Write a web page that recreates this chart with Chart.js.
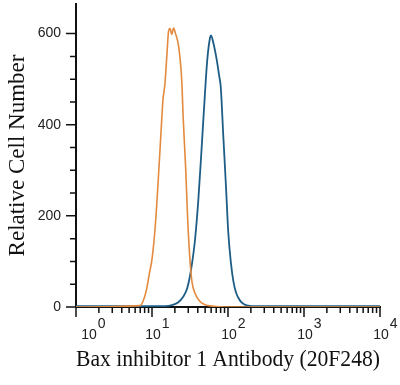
<!DOCTYPE html>
<html>
<head>
<meta charset="utf-8">
<script src="https://cdn.jsdelivr.net/npm/chart.js@4.4.1/dist/chart.umd.min.js"></script>
<style>
  html, body { margin: 0; padding: 0; background: #fff; }
</style>
</head>
<body>
<canvas id="myChart" width="400" height="385"></canvas>
<script>
// isotype control (orange) - fluorescence intensity vs cell count
const isotypeX = [1, 6.95, 7.61, 8.47, 9.27, 10.0, 10.95, 12.0, 13.1, 13.95, 14.8, 15.8, 16.5, 17.3, 18.2, 19.2, 20.4, 22.0, 23.4, 24.6, 25.8, 27.8, 29.5, 31.6, 33.6, 36.8, 42.8, 49.8, 61.6, 91.3, 10000];
const isotypeY = [0, 3, 12, 38, 75, 105, 170, 270, 380, 455, 490, 560, 605, 611, 598, 612, 600, 580, 545, 499, 411, 301, 191, 103, 55, 30, 12, 5, 2, 0, 0];

// Bax inhibitor 1 antibody (blue)
const antibodyX = [1, 14.8, 18.3, 22.0, 25.6, 28.9, 31.6, 33.6, 36.8, 40.7, 45.1, 49.8, 53.4, 58.0, 59.8, 64.1, 71.0, 76.8, 80.2, 86.8, 94.1, 100.9, 109.5, 118.1, 127.4, 143.9, 162.4, 183.3, 207.0, 10000];
const antibodyY = [2, 2, 4, 10, 22, 40, 68, 95, 147, 235, 352, 470, 543, 591, 596, 580, 543, 506, 484, 374, 264, 163, 95, 55, 32, 14, 6, 3, 2, 2];

const xExps = [0, 1, 2, 3, 4];
const xMinor = [2, 3, 4, 5, 6, 7, 8, 9];
const yLabelled = [0, 200, 400, 600];
const yMax = 665;

const toPoints = (xs, ys) => xs.map((x, i) => ({ x: x, y: ys[i] }));

const axisMarks = {
  id: "axisMarks",
  afterDraw: (chart) => {
    const { ctx, chartArea, scales } = chart;
    const x = scales.x;
    const y = scales.y;
    const bottom = chartArea.bottom;
    const left = chartArea.left;
    ctx.save();
    ctx.strokeStyle = "#111";
    ctx.lineWidth = 1.5;
    ctx.beginPath();
    xExps.forEach((e, i) => {
      const px = x.getPixelForValue(Math.pow(10, e));
      ctx.moveTo(px, bottom);
      ctx.lineTo(px, bottom + 10);
      if (i < xExps.length - 1) {
        xMinor.forEach((m) => {
          const p = x.getPixelForValue(m * Math.pow(10, e));
          ctx.moveTo(p, bottom);
          ctx.lineTo(p, bottom + 6);
        });
      }
    });
    y.ticks.forEach((t) => {
      if (t.value % 50 !== 0) return;
      const py = y.getPixelForValue(t.value);
      const len = yLabelled.includes(t.value) ? 10 : 6;
      ctx.moveTo(left - len, py);
      ctx.lineTo(left, py);
    });
    ctx.stroke();

    // x labels as 10 with raised exponent
    ctx.fillStyle = "#222";
    ctx.font = "14px 'Liberation Sans', Arial, sans-serif";
    ctx.textBaseline = "alphabetic";
    xExps.forEach((e) => {
      const px = x.getPixelForValue(Math.pow(10, e));
      const cx = e === xExps[0] ? px + 13 : px + 1;
      ctx.textAlign = "center";
      ctx.fillText("10", cx, bottom + 32);
      const w = ctx.measureText("10").width;
      ctx.textAlign = "left";
      ctx.fillText(String(e), cx + w / 2 + 1, bottom + 21);
    });
    ctx.restore();
  },
};

const serif = "'Liberation Serif', 'Times New Roman', serif";

const config = {
  type: "line",
  data: {
    datasets: [
      {
        label: "Isotype",
        data: toPoints(isotypeX, isotypeY),
        borderColor: "#e48a3f",
        borderWidth: 1.6,
        pointRadius: 0,
        fill: false,
        cubicInterpolationMode: "monotone",
      },
      {
        label: "Bax inhibitor 1",
        data: toPoints(antibodyX, antibodyY),
        borderColor: "#1d5d86",
        borderWidth: 1.8,
        pointRadius: 0,
        fill: false,
        cubicInterpolationMode: "monotone",
      },
    ],
  },
  options: {
    responsive: false,
    animation: false,
    layout: { padding: { top: 4, right: 20, left: 0, bottom: 0 } },
    plugins: {
      legend: { display: false },
      tooltip: { enabled: false },
    },
    scales: {
      x: {
        type: "logarithmic",
        min: 1,
        max: 10000,
        afterFit: (scale) => {
          scale.height = 78;
          scale.paddingLeft = 0;
          scale.paddingRight = 0;
        },
        ticks: { display: false },
        grid: { drawOnChartArea: false, drawTicks: false },
        border: { display: true, color: "#111", width: 2 },
        title: {
          display: true,
          text: "Bax inhibitor 1 Antibody (20F248)",
          color: "#111",
          font: { family: serif, size: 23 },
          padding: { top: 0, bottom: 11 },
        },
      },
      y: {
        type: "linear",
        min: 0,
        max: yMax,
        afterFit: (scale) => {
          scale.width = 76;
          scale.paddingTop = 0;
          scale.paddingBottom = 0;
        },
        ticks: {
          stepSize: 50,
          autoSkip: false,
          padding: 15,
          color: "#222",
          font: { family: "'Liberation Sans', Arial, sans-serif", size: 14 },
          callback: (v) => (yLabelled.includes(v) ? String(v) : ""),
        },
        grid: { drawOnChartArea: false, drawTicks: false },
        border: { display: true, color: "#111", width: 2 },
        title: {
          display: true,
          text: "Relative Cell Number",
          color: "#111",
          font: { family: serif, size: 23 },
          padding: { top: 4, bottom: 0 },
        },
      },
    },
  },
  plugins: [axisMarks],
};

const chart = new Chart(document.getElementById("myChart").getContext("2d"), config);
</script>
</body>
</html>
